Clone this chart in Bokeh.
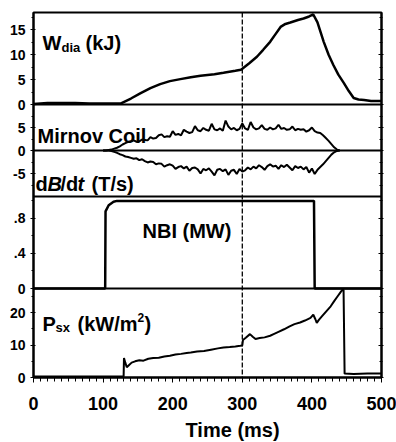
from bokeh.plotting import figure
from bokeh.models import Range1d, LinearAxis, FixedTicker, Span, Label, Title
from bokeh.embed import file_html
from bokeh.resources import INLINE

# ---------------- data ----------------
w_t = [0, 20, 40, 60, 80, 100, 125, 140, 154, 168, 182, 196, 211, 226, 240, 260, 273, 290, 298, 300,
       310, 321, 330, 340, 348, 355, 362, 369, 380, 388, 396, 402, 408, 417, 424, 431, 438, 446,
       453, 460, 467, 475, 485, 494, 500]
w_val = [0.1, 0.3, 0.3, 0.3, 0.2, 0.2, 0.2, 1.2, 2.3, 3.3, 4.1, 4.7, 5.1, 5.5, 5.8, 6.1, 6.4, 6.8, 7.0, 7.2,
         8.3, 9.6, 11.0, 12.6, 14.2, 15.6, 16.2, 16.5, 17.0, 17.3, 17.7, 18.1, 16.5, 12.6, 10.0, 7.9, 6.0, 4.3,
         2.7, 1.3, 1.0, 0.9, 0.7, 0.7, 0.7]

mir_t = [100, 104, 108, 112, 116, 120, 124, 128, 132, 136, 140, 144, 148, 152, 156, 160, 164, 168, 172, 176,
         180, 184, 188, 192, 196, 200, 204, 208, 212, 216, 220, 224, 228, 232, 236, 240, 244, 248, 252, 256,
         260, 264, 268, 272, 276, 280, 284, 288, 292, 296, 300, 304, 308, 312, 316, 320, 324, 328, 332, 336,
         340, 344, 348, 352, 356, 360, 364, 368, 372, 376, 380, 384, 388, 392, 396, 400, 404, 408, 412, 416,
         420, 424, 428, 432, 436, 440]
mir_up = [0, 0, 0.1, 0.2, 0.4, 0.6, 0.9, 1.3, 1.6, 1.9, 2.0, 2.2, 1.9, 2.0, 2.4, 2.3, 2.2, 2.9, 2.6, 2.7,
          3.3, 3.5, 2.9, 3.1, 3.0, 4.2, 3.4, 3.6, 3.3, 4.5, 4.1, 3.8, 4.0, 5.3, 4.4, 4.2, 4.9, 4.5, 4.3, 5.8,
          4.6, 4.4, 4.8, 4.3, 6.5, 5.2, 4.6, 4.9, 4.4, 4.7, 5.9, 4.8, 4.5, 6.2, 5.0, 4.6, 4.8, 5.5, 4.7, 4.5,
          5.0, 4.6, 4.8, 5.6, 4.7, 4.9, 4.5, 4.6, 5.2, 4.4, 4.7, 4.5, 4.6, 4.1, 4.4, 5.0, 4.2, 3.9, 3.8, 3.3,
          2.7, 2.1, 1.4, 0.7, 0.2, 0]
mir_lo = [0, 0, 0, -0.1, -0.3, -0.5, -0.8, -1.0, -1.3, -1.4, -1.6, -1.8, -1.7, -2.1, -1.9, -2.3, -2.6, -2.4, -2.5, -3.0,
          -2.8, -2.9, -3.5, -3.2, -3.0, -3.3, -4.0, -3.6, -3.4, -3.9, -3.5, -4.4, -3.8, -3.7, -4.1, -5.0, -4.0, -4.3, -3.9, -4.6,
          -5.4, -4.2, -4.0, -4.5, -4.1, -5.3, -4.4, -4.2, -5.1, -4.0, -4.6, -4.3, -3.7, -4.1, -3.5, -3.9, -3.2, -3.6, -4.2, -3.4,
          -3.0, -3.5, -3.3, -4.0, -3.2, -3.6, -3.1, -3.7, -4.3, -3.4, -3.8, -3.5, -4.1, -3.6, -4.8, -3.9, -5.1, -4.2, -3.6, -3.0,
          -2.3, -1.6, -0.9, -0.4, -0.1, 0]

nbi_t = [0, 103, 103.5, 108, 115, 120, 403, 404, 500]
nbi_val = [0, 0, 0.88, 0.95, 0.99, 1.0, 1.0, 0, 0]

psx_t = [0, 129.5, 130, 132, 134, 137, 141, 146, 152, 158, 165, 172, 180, 188, 196, 204, 212, 220, 226, 235,
         245, 255, 265, 273, 282, 290, 297, 300, 301, 305, 311, 315, 319, 325, 332, 340, 345, 352, 360, 368,
         375, 383, 390, 398, 402, 405, 407, 410, 414, 420, 427, 432, 437, 441, 444, 445.5, 447, 460, 480, 500]
psx_val = [0.3, 0.3, 6.0, 4.5, 3.2, 3.8, 4.6, 5.0, 5.3, 5.2, 5.8, 6.0, 6.1, 6.5, 6.7, 7.1, 7.3, 7.6, 7.7, 8.0,
           8.2, 8.6, 9.0, 9.3, 9.4, 9.6, 9.8, 9.9, 11.6, 12.3, 13.4, 12.6, 11.9, 12.2, 12.4, 12.9, 13.4, 14.1, 14.9, 15.8,
           16.5, 17.0, 17.6, 18.4, 19.4, 18.0, 16.9, 17.8, 18.8, 20.3, 22.0, 23.6, 25.1, 26.3, 27.2, 27.0, 1.2, 1.1, 1.2, 1.2]

x_ticks = [0, 100, 200, 300, 400, 500]
x_minor = list(range(0, 501, 10))
x_title = "Time (ms)"

w_ticks = [0, 5, 10, 15]
w_tick_labels = ["0", "5", "10", "15"]
w_minor = [2.5, 7.5, 12.5, 17.5]
mir_ticks = [-5, 0, 5]
mir_tick_labels = ["-5", "0", "5"]
mir_minor = [-7.5, -2.5, 2.5, 7.5]
nbi_ticks = [0, 0.4, 0.8]
nbi_tick_labels = ["0", ".4", ".8"]
nbi_minor = [0.2, 0.6, 1.0]
psx_ticks = [0, 10, 20]
psx_tick_labels = ["0", "10", "20"]
psx_minor = [5, 15, 25]

# ---------------- layout ----------------
FONT = "Liberation Sans"
FW, FH = 348, 365
# name: (lo, hi, top offset px, bottom offset px)
bands = {
    "w": (0, 18.5, 0, 92),
    "mir": (-10, 10, 92, 184),
    "nbi": (0, 1.05, 184, 276),
    "psx": (0, 27.5, 276, 365),
}

p = figure(frame_width=FW, frame_height=FH, min_border_left=33, min_border_right=15,
           min_border_top=12, min_border_bottom=0, output_backend="svg", toolbar_location=None,
           x_range=Range1d(0, 500), y_range=Range1d(0, FH), y_axis_location=None)
p.background_fill_color = "white"
p.border_fill_color = "white"
p.outline_line_color = "black"
p.outline_line_width = 2
p.xgrid.visible = False
p.ygrid.visible = False

ranges = {}
for name, (lo, hi, top, bot) in bands.items():
    k = (bot - top) / (hi - lo)
    ranges[name] = Range1d(lo - (FH - bot) / k, hi + top / k)
p.extra_y_ranges = ranges


def to_main(name, v):
    lo, hi, top, bot = bands[name]
    k = (bot - top) / (hi - lo)
    return round(FH - (top + (hi - v) * k), 4)


major_pos, minor_pos, overrides = [], [], {}
for name, ticks, labels, minors in [("w", w_ticks, w_tick_labels, w_minor),
                                    ("mir", mir_ticks, mir_tick_labels, mir_minor),
                                    ("nbi", nbi_ticks, nbi_tick_labels, nbi_minor),
                                    ("psx", psx_ticks, psx_tick_labels, psx_minor)]:
    for v, lab in zip(ticks, labels):
        pos = to_main(name, v)
        major_pos.append(pos)
        overrides[pos] = lab
    for v in minors:
        minor_pos.append(to_main(name, v))

yticker = FixedTicker(ticks=major_pos, minor_ticks=minor_pos)
left = LinearAxis(ticker=yticker, major_label_overrides=overrides)
left.major_label_text_font = FONT
left.major_label_text_font_style = "bold"
left.major_label_text_font_size = "14px"
left.major_label_text_color = "black"
left.axis_line_width = 2
left.major_tick_out = 3
left.major_tick_in = 2
left.minor_tick_out = 2
left.minor_tick_in = 0
left.major_label_standoff = 5
p.add_layout(left, "left")

right = LinearAxis(ticker=yticker, major_label_overrides={k2: "" for k2 in overrides})
right.major_label_text_font_size = "0px"
right.major_label_standoff = 0
right.axis_line_width = 2
right.major_tick_in = 3
right.major_tick_out = 2
right.minor_tick_in = 2
right.minor_tick_out = 1
p.add_layout(right, "right")

xa = p.xaxis[0]
xa.ticker = FixedTicker(ticks=x_ticks, minor_ticks=x_minor)
xa.major_label_text_font = FONT
xa.major_label_text_font_style = "bold"
xa.major_label_text_font_size = "18px"
xa.major_label_text_color = "black"
xa.axis_line_width = 2
xa.major_tick_out = 5
xa.major_tick_in = 0
xa.minor_tick_out = 4
xa.minor_tick_in = 0
xa.major_label_standoff = 14

p.add_layout(Title(text=x_title, align="left", offset=152, text_font=FONT, text_font_style="bold",
                   text_font_size="20px", text_color="black", standoff=8), "below")

# panel separators and reference lines
for name in ["w", "mir", "nbi"]:
    p.add_layout(Span(location=bands[name][0], dimension="width", y_range_name=name,
                      line_color="black", line_width=2))
p.add_layout(Span(location=0, dimension="width", y_range_name="mir", line_color="black", line_width=2))
p.add_layout(Span(location=300, dimension="height", line_color="black", line_width=1.3, line_dash="5 2"))

# traces
p.line(w_t, w_val, y_range_name="w", line_color="black", line_width=2.5)
p.line(mir_t, mir_up, y_range_name="mir", line_color="black", line_width=2)
p.line(mir_t, mir_lo, y_range_name="mir", line_color="black", line_width=2)
p.line(nbi_t, nbi_val, y_range_name="nbi", line_color="black", line_width=2.5)
p.line(psx_t, psx_val, y_range_name="psx", line_color="black", line_width=2)


def lab(name, text, dx, down, size=20, style="bold"):
    p.add_layout(Label(x=0, y=bands[name][1], y_range_name=name, x_offset=dx, y_offset=-down,
                       text=text, text_font=FONT, text_font_style=style,
                       text_font_size=f"{size}px", text_color="black",
                       text_align="left", text_baseline="alphabetic"))


lab("w", "W", 9, 30)
lab("w", "dia", 28, 35, 13)
lab("w", "(kJ)", 52, 30)
lab("mir", "Mirnov Coil", 4, 31)
lab("mir", "d", 2, 79)
lab("mir", "B", 14, 79, style="bold italic")
lab("mir", "/d", 27, 79)
lab("mir", "t", 44, 79, style="bold italic")
lab("mir", "(T/s)", 58, 79)
lab("nbi", "NBI (MW)", 109, 34)
lab("psx", "P", 9, 35)
lab("psx", "sx", 22, 39, 13)
lab("psx", "(kW/m", 44, 35)
lab("psx", "2", 104, 29, 12)
lab("psx", ")", 111, 35)

open("out.html", "w").write(file_html(p, INLINE))
